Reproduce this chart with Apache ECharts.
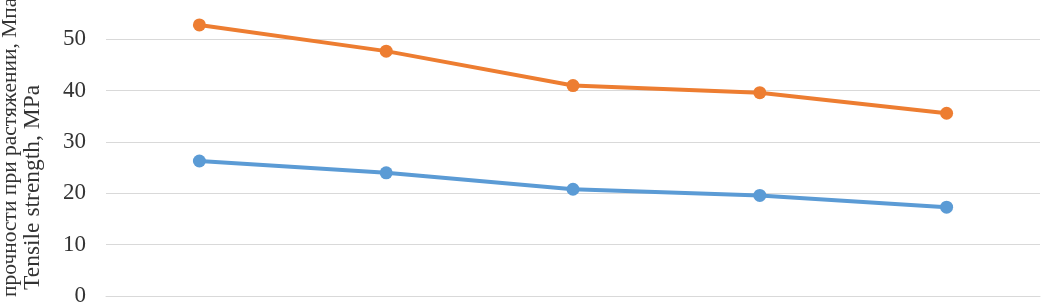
<!DOCTYPE html>
<html><head><meta charset="utf-8">
<script src="https://cdn.jsdelivr.net/npm/echarts@6/dist/echarts.min.js"></script>
<style>html,body{margin:0;padding:0;background:#fff;overflow:hidden}#c{width:1041px;height:307px}</style>
</head><body><div id="c"></div>
<script>
const categories = ['1', '2', '3', '4', '5'];
const seriesOrange = [52.8, 47.7, 41.0, 39.6, 35.6];
const seriesBlue = [26.3, 24.0, 20.8, 19.6, 17.3];
const yTicks = [0, 10, 20, 30, 40, 50, 60];
const titleLine1 = 'прочности при растяжении, Мпа';
const titleLine2 = 'Tensile strength, MPa';

const font = '"Liberation Serif", "Times New Roman", serif';
const chart = echarts.init(document.getElementById('c'));
chart.setOption({
  animation: false,
  backgroundColor: '#fff',
  grid: { left: 106, right: 1, top: -12, bottom: 11, containLabel: false, outerBoundsMode: 'none' },
  xAxis: {
    type: 'category', data: categories, boundaryGap: true,
    axisLine: { lineStyle: { color: '#d9d9d9', width: 1 } },
    axisTick: { show: false }, axisLabel: { show: false }
  },
  yAxis: {
    type: 'value', min: yTicks[0], max: yTicks[yTicks.length - 1], interval: 10,
    axisLine: { show: false }, axisTick: { show: false },
    axisLabel: { color: '#333333', fontFamily: font, fontSize: 23, margin: 20 },
    splitLine: { lineStyle: { color: '#d9d9d9', width: 1 } }
  },
  graphic: [
    { type: 'text', x: 10, y: 297, rotation: Math.PI / 2,
      style: { text: titleLine1, font: '21.5px ' + font, fill: '#333333', align: 'left', verticalAlign: 'middle' } },
    { type: 'text', x: 33, y: 290, rotation: Math.PI / 2,
      style: { text: titleLine2, font: '23.5px ' + font, fill: '#333333', align: 'left', verticalAlign: 'middle' } }
  ],
  series: [
    { name: 'orange', type: 'line', data: seriesOrange, symbol: 'circle', symbolSize: 13,
      lineStyle: { color: '#ED7D31', width: 4 }, itemStyle: { color: '#ED7D31' } },
    { name: 'blue', type: 'line', data: seriesBlue, symbol: 'circle', symbolSize: 13,
      lineStyle: { color: '#5B9BD5', width: 4 }, itemStyle: { color: '#5B9BD5' } }
  ]
});
</script></body></html>
